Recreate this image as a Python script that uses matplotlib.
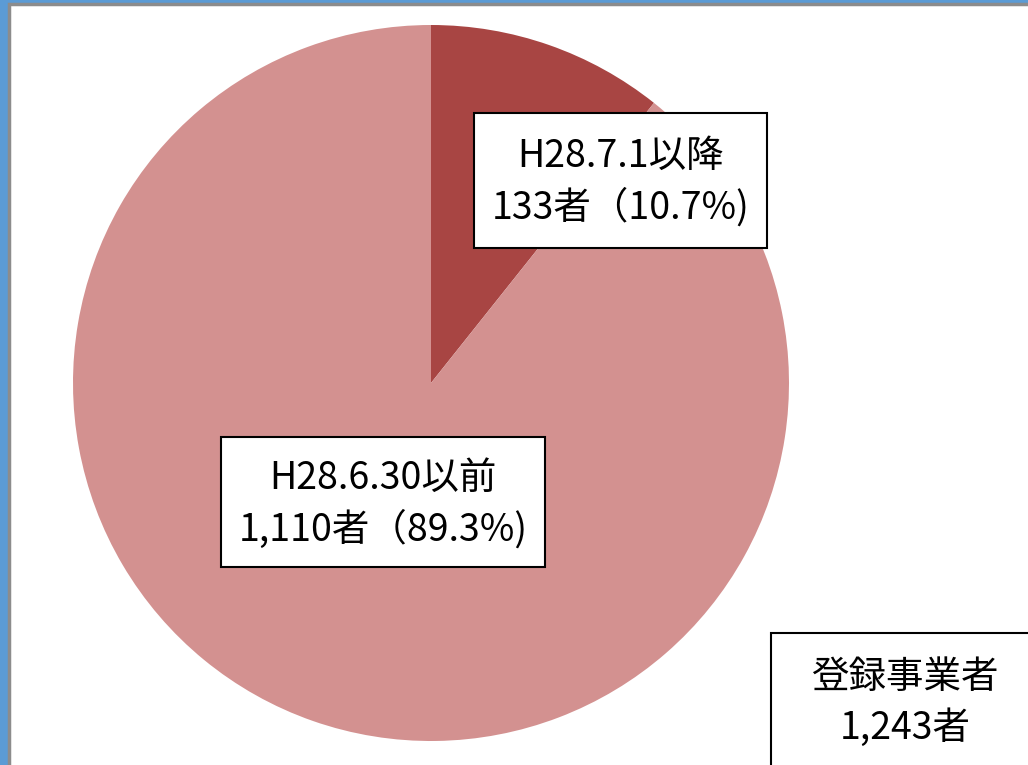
import matplotlib
matplotlib.use("Agg")
import matplotlib.pyplot as plt
from matplotlib.patches import Rectangle

plt.rcParams['font.family'] = ['Noto Sans CJK JP', 'DejaVu Sans']

# Data
categories = ["H28.7.1以降", "H28.6.30以前"]
counts = [133, 1110]
percents = [10.7, 89.3]
total_label = "登録事業者\n1,243者"
colors = ["#A84543", "#D39190"]

W, H = 1028, 765
fig = plt.figure(figsize=(W / 100, H / 100), dpi=100)
fig.patch.set_facecolor("#5B9BD5")

# Background frame (pixel coordinates)
bg = fig.add_axes([0, 0, 1, 1])
bg.set_xlim(0, W)
bg.set_ylim(H, 0)
bg.axis("off")
bg.add_patch(Rectangle((9, 4), W, H, facecolor="white", edgecolor="#8C8C8C", linewidth=2.5))

# Pie
cx, cy, r = 431, 383, 358
pie_ax = fig.add_axes([(cx - r) / W, (H - cy - r) / H, 2 * r / W, 2 * r / H])
pie_ax.pie(counts, colors=colors, startangle=90, counterclock=False,
           wedgeprops=dict(linewidth=0), radius=1)
pie_ax.set_xlim(-1, 1)
pie_ax.set_ylim(-1, 1)
pie_ax.set_aspect("equal")
pie_ax.axis("off")

# Overlay for labels (pixel coordinates)
ov = fig.add_axes([0, 0, 1, 1])
ov.set_xlim(0, W)
ov.set_ylim(H, 0)
ov.axis("off")
ov.patch.set_alpha(0)

def fmt_count(n):
    return f"{n:,}"

labels = [
    f"{categories[0]}\n{fmt_count(counts[0])}者（{percents[0]}%)",
    f"{categories[1]}\n{fmt_count(counts[1])}者（{percents[1]}%)",
]
boxes = [(474, 113, 293, 135), (221, 437, 324, 130)]
for (x, y, w, h), lab in zip(boxes, labels):
    ov.add_patch(Rectangle((x, y), w, h, facecolor="white", edgecolor="black", linewidth=1.5, zorder=3))
    ov.text(x + w / 2, y + h / 2 + 2, lab, ha="center", va="center", fontsize=27,
            linespacing=1.4, zorder=4)

ov.add_patch(Rectangle((771, 633), 300, 200, facecolor="white", edgecolor="black", linewidth=1.5, zorder=3))
ov.text(905, 703, total_label, ha="center", va="center", fontsize=27, linespacing=1.4, zorder=4)

fig.savefig("out.png", dpi=100, facecolor=fig.get_facecolor())
